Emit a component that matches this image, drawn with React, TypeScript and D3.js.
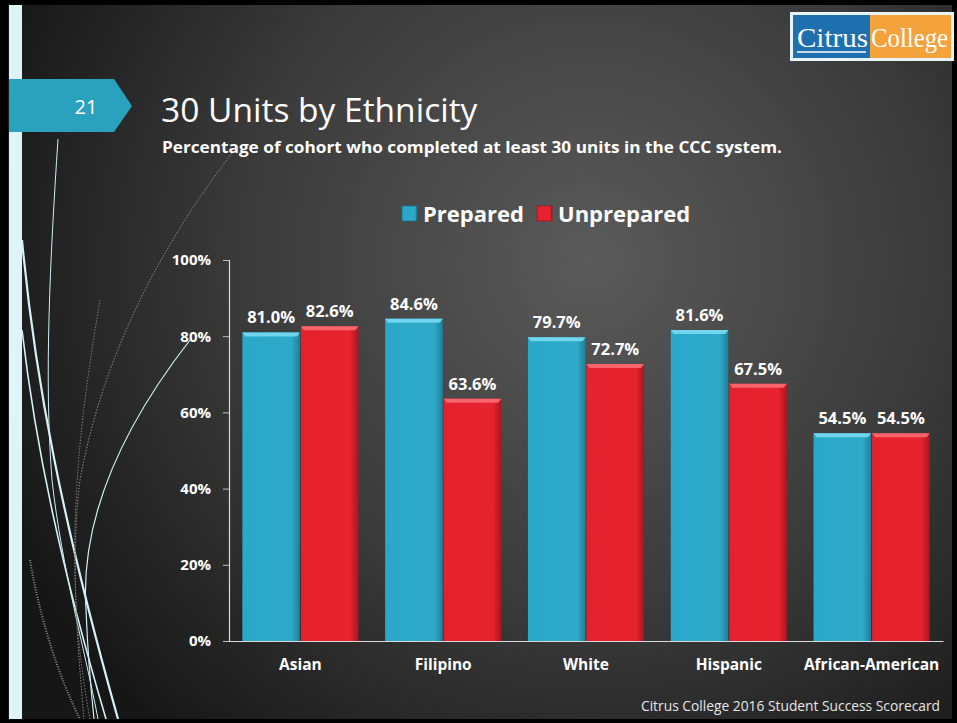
import React, { useEffect, useRef } from "react";
import * as d3 from "d3";

// chart data
const categories = ["Asian", "Filipino", "White", "Hispanic", "African-American"];
const prepared = [81.0, 84.6, 79.7, 81.6, 54.5];
const unprepared = [82.6, 63.6, 72.7, 67.5, 54.5];
const seriesNames = ["Prepared", "Unprepared"];
const yTicks = [0, 20, 40, 60, 80, 100];

const W = 957;
const H = 723;
const FONT = "'Open Sans', sans-serif";

const App = () => {
  const ref = useRef<SVGSVGElement>(null);

  useEffect(() => {
    const svg = d3.select(ref.current);
    svg.selectAll("*").remove();

    const defs = svg.append("defs");
    const bg = defs.append("radialGradient").attr("id", "bg")
      .attr("gradientUnits", "userSpaceOnUse")
      .attr("cx", 590).attr("cy", 260).attr("r", 640);
    bg.append("stop").attr("offset", "0").attr("stop-color", "#5a5a5a");
    bg.append("stop").attr("offset", "0.55").attr("stop-color", "#3a3a3a");
    bg.append("stop").attr("offset", "1").attr("stop-color", "#161616");

    const grad = (id, a, b, c) => {
      const g = defs.append("linearGradient").attr("id", id)
        .attr("x1", 0).attr("x2", 1).attr("y1", 0).attr("y2", 0);
      g.append("stop").attr("offset", "0").attr("stop-color", a);
      g.append("stop").attr("offset", "0.85").attr("stop-color", b);
      g.append("stop").attr("offset", "1").attr("stop-color", c);
    };
    grad("gBlue", "#2aa8c9", "#2fa9c8", "#1f7f99");
    grad("gRed", "#e5212e", "#e7232f", "#a8161f");

    // slide frame + background
    svg.append("rect").attr("width", W).attr("height", H).attr("fill", "#000");
    svg.append("rect").attr("x", 8).attr("y", 5).attr("width", 944).attr("height", 714).attr("fill", "url(#bg)");
    svg.append("rect").attr("x", 9).attr("y", 5).attr("width", 13).attr("height", 714).attr("fill", "#dff4f8");

    // decorative curves on the left
    const deco = svg.append("g").attr("fill", "none");
    deco.append("path").attr("d", "M58,139 C50,260 44,380 52,480 C62,570 85,650 98,719")
      .attr("stroke", "#cfeff6").attr("stroke-width", 1);
    deco.append("path").attr("d", "M22,240 C35,380 62,520 118,719")
      .attr("stroke", "#d6f2f8").attr("stroke-width", 2.2);
    deco.append("path").attr("d", "M22,330 C36,450 62,570 106,719")
      .attr("stroke", "#d6f2f8").attr("stroke-width", 1.6);
    deco.append("path").attr("d", "M190,340 C120,430 80,520 86,610 C88,660 92,700 94,719")
      .attr("stroke", "#cfeff6").attr("stroke-width", 1.2);
    deco.append("path").attr("d", "M232,153 C150,260 100,370 80,480 C70,560 78,650 84,719")
      .attr("stroke", "#8a8a8a").attr("stroke-width", 1).attr("stroke-dasharray", "1.5,1.5");
    deco.append("path").attr("d", "M100,300 C80,420 60,560 90,719")
      .attr("stroke", "#7a7a7a").attr("stroke-width", 1).attr("stroke-dasharray", "1.5,1.5");
    deco.append("path").attr("d", "M30,560 C40,620 60,680 80,719")
      .attr("stroke", "#8a8a8a").attr("stroke-width", 2).attr("stroke-dasharray", "1,1.5");

    // page number badge
    svg.append("polygon").attr("points", "9,79 114,79 132,106 114,132 9,132").attr("fill", "#2aa1bd");
    svg.append("text").attr("x", 86).attr("y", 114).attr("text-anchor", "middle")
      .attr("fill", "#fff").attr("font-family", FONT).attr("font-size", 20).text("21");

    // titles
    svg.append("text").attr("x", 161).attr("y", 122).attr("fill", "#fff")
      .attr("font-family", FONT).attr("font-size", 33.5).text("30 Units by Ethnicity");
    svg.append("text").attr("x", 162).attr("y", 153).attr("fill", "#fff")
      .attr("font-family", FONT).attr("font-weight", "bold").attr("font-size", 16.8)
      .attr("textLength", 620).attr("lengthAdjust", "spacingAndGlyphs")
      .text("Percentage of cohort who completed at least 30 units in the CCC system.");

    // logo
    const logo = svg.append("g");
    logo.append("rect").attr("x", 790).attr("y", 12).attr("width", 164).attr("height", 49).attr("fill", "#e9f4fa");
    logo.append("rect").attr("x", 793).attr("y", 15).attr("width", 77).attr("height", 43).attr("fill", "#1f6fae");
    logo.append("rect").attr("x", 870).attr("y", 15).attr("width", 81).attr("height", 43).attr("fill", "#f4a23c");
    logo.append("text").attr("x", 797).attr("y", 47).attr("fill", "#fff")
      .attr("font-family", "'Liberation Serif', serif").attr("font-size", 27)
      .attr("textLength", 71).attr("lengthAdjust", "spacingAndGlyphs").text("Citrus");
    logo.append("text").attr("x", 871).attr("y", 47).attr("fill", "#fff")
      .attr("font-family", "'Liberation Serif', serif").attr("font-size", 27)
      .attr("textLength", 77).attr("lengthAdjust", "spacingAndGlyphs").text("College");
    logo.append("line").attr("x1", 797).attr("x2", 866).attr("y1", 52).attr("y2", 52)
      .attr("stroke", "#fff").attr("stroke-width", 1.5);

    // chart
    const x0 = d3.scaleBand().domain(categories).range([229, 943]).paddingInner(0.18).paddingOuter(0.09);
    const x1 = d3.scaleBand().domain(seriesNames).range([0, x0.bandwidth()]);
    const y = d3.scaleLinear().domain([0, 100]).range([641, 260]);

    const yAxis = svg.append("g").attr("transform", "translate(229,0)")
      .call(d3.axisLeft(y).tickValues(yTicks).tickSize(6).tickPadding(12).tickFormat(d => d + "%"));
    yAxis.select(".domain").attr("stroke", "#d9d9d9").attr("stroke-width", 1.2);
    yAxis.selectAll(".tick line").attr("stroke", "#bfbfbf");
    yAxis.selectAll("text").attr("fill", "#fff").attr("font-family", FONT)
      .attr("font-weight", "bold").attr("font-size", 15);

    const rows = categories.map((c, i) => ({ c, vals: [prepared[i], unprepared[i]] }));
    const fills = ["url(#gBlue)", "url(#gRed)"];
    const tops = ["#6fd6ee", "#f7646c"];

    const groups = svg.selectAll("g.grp").data(rows).enter().append("g")
      .attr("class", "grp").attr("transform", d => `translate(${x0(d.c)},0)`);

    seriesNames.forEach((s, si) => {
      const bw = x1.bandwidth();
      groups.append("rect")
        .attr("x", x1(s) + 0.5).attr("y", d => y(d.vals[si]))
        .attr("width", bw - 1).attr("height", d => y(0) - y(d.vals[si]))
        .attr("fill", fills[si]);
      groups.append("polygon")
        .attr("points", d => {
          const t = y(d.vals[si]);
          const l = x1(s) + 0.5, r = x1(s) + bw - 0.5;
          return `${l},${t} ${r},${t} ${r - 3},${t + 4} ${l + 3},${t + 4}`;
        })
        .attr("fill", tops[si]);
      groups.append("text")
        .attr("x", x1(s) + bw / 2).attr("y", d => y(d.vals[si]) - 9)
        .attr("text-anchor", "middle").attr("fill", "#fff").attr("font-family", FONT)
        .attr("font-weight", "bold").attr("font-size", 16.5)
        .text(d => d.vals[si].toFixed(1) + "%");
    });

    const xAxis = svg.append("g").attr("transform", "translate(0,641)")
      .call(d3.axisBottom(x0).tickSize(0).tickPadding(18));
    xAxis.select(".domain").attr("stroke", "#d9d9d9").attr("stroke-width", 1.2);
    xAxis.selectAll("text").attr("fill", "#fff").attr("font-family", FONT)
      .attr("font-weight", "bold").attr("font-size", 15.5);

    // legend
    const legend = svg.append("g").attr("transform", "translate(402,206)");
    const lx = [0, 135];
    seriesNames.forEach((s, i) => {
      legend.append("rect").attr("x", lx[i]).attr("y", 0).attr("width", 15).attr("height", 15)
        .attr("fill", fills[i]).attr("stroke", i === 0 ? "#1b6f85" : "#9c1820").attr("stroke-width", 0.8);
      legend.append("text").attr("x", lx[i] + 21).attr("y", 16).attr("fill", "#fff")
        .attr("font-family", FONT).attr("font-weight", "bold").attr("font-size", 22).text(s);
    });

    // footer
    svg.append("text").attr("x", 940).attr("y", 711).attr("text-anchor", "end")
      .attr("fill", "#e6e6e6").attr("font-family", FONT).attr("font-size", 13.8)
      .text("Citrus College 2016 Student Success Scorecard");
  }, []);

  return (
    <svg ref={ref} width={W} height={H}
      style={{ position: "fixed", left: 0, top: 0, display: "block" }} />
  );
};

export default App;
